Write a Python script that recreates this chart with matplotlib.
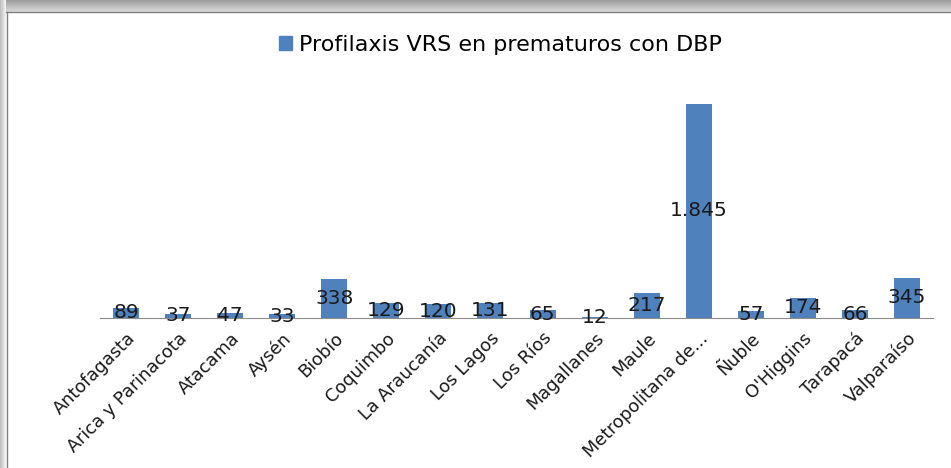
import numpy as np
import matplotlib.pyplot as plt
from matplotlib.patches import Rectangle
from matplotlib.lines import Line2D

regiones = ['Antofagasta', 'Arica y Parinacota', 'Atacama', 'Aysén', 'Biobío',
            'Coquimbo', 'La Araucanía', 'Los Lagos', 'Los Ríos', 'Magallanes',
            'Maule', 'Metropolitana de...', 'Ñuble', "O'Higgins", 'Tarapacá',
            'Valparaíso']
valores = [89, 37, 47, 33, 338, 129, 120, 131, 65, 12, 217, 1845, 57, 174, 66, 345]
serie = 'Profilaxis VRS en prematuros con DBP'

W, H = 951, 468
fig = plt.figure(figsize=(W / 100, H / 100), dpi=100)

# background: grey shadow at the top, thin frame
bg = fig.add_axes([0, 0, 1, 1])
bg.axis('off')
grad = np.linspace(0.62, 0.85, 12).reshape(-1, 1)
bg.imshow(grad, cmap='gray', vmin=0, vmax=1, extent=[0, W, 12, 0], aspect='auto')
grad_l = np.linspace(0.75, 0.95, 6).reshape(1, -1)
bg.imshow(grad_l, cmap='gray', vmin=0, vmax=1, extent=[0, 6, H, 0], aspect='auto')
bg.add_line(Line2D([6, W], [12, 12], color='#7f7f7f', lw=1))
bg.add_line(Line2D([7, 7], [12, H], color='#7f7f7f', lw=1))
bg.set_xlim(0, W)
bg.set_ylim(H, 0)

# plot area
x0, x1, base = 100, 933, 318
ymax = 2000
ph = 214 * ymax / 1845
ax = fig.add_axes([x0 / W, (H - base) / H, (x1 - x0) / W, ph / H])
x = np.arange(len(regiones))
ax.bar(x, valores, width=0.5, color='#4f81bd', label=serie)
ax.set_xlim(-0.5, len(regiones) - 0.5)
ax.set_ylim(0, ymax)

for xi, v in zip(x, valores):
    txt = f'{v:,}'.replace(',', '.')
    ax.text(xi, v / 2, txt, ha='center', va='center', fontsize=14.5, color='#1a1a1a')

for s in ['top', 'right', 'left']:
    ax.spines[s].set_visible(False)
ax.spines['bottom'].set_color('#8c8c8c')
ax.set_yticks([])
ax.set_xticks(x)
ax.set_xticklabels(regiones, rotation=45, ha='right', rotation_mode='anchor',
                   fontsize=12.8, color='#1a1a1a')
ax.tick_params(axis='x', length=0, pad=8)

fig.legend(handles=[Rectangle((0, 0), 1, 1, color='#4f81bd')], labels=[serie],
           loc='center', bbox_to_anchor=(500 / W, 1 - 45 / H), frameon=False,
           fontsize=16, handlelength=0.6, handleheight=0.6, handletextpad=0.3)

fig.savefig('out.png', dpi=100)
